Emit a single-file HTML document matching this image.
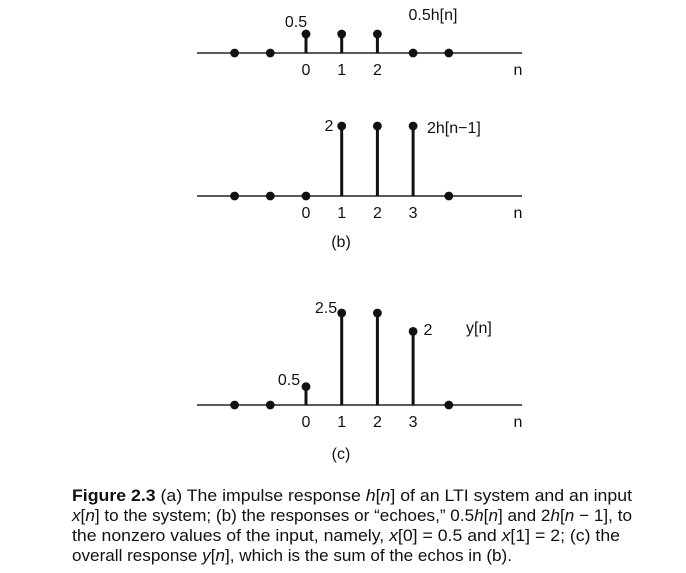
<!DOCTYPE html>
<html><head><meta charset="utf-8"><style>
html,body{margin:0;padding:0;background:#fff;width:686px;height:573px;overflow:hidden}
svg{display:block;font-family:"Liberation Sans",Arial,sans-serif}
</style></head><body>
<svg id="fig" width="686" height="573" viewBox="0 0 686 573">
<g id="panels"></g>
<g id="caption" font-size="17" fill="#111">
<text x="72" y="501" textLength="560" lengthAdjust="spacingAndGlyphs"><tspan font-weight="bold">Figure 2.3</tspan>    (a) The impulse response <tspan font-style="italic">h</tspan>[<tspan font-style="italic">n</tspan>] of an LTI system and an input</text>
<text x="72" y="521" textLength="560" lengthAdjust="spacingAndGlyphs"><tspan font-style="italic">x</tspan>[<tspan font-style="italic">n</tspan>] to the system; (b) the responses or “echoes,” 0.5<tspan font-style="italic">h</tspan>[<tspan font-style="italic">n</tspan>] and 2<tspan font-style="italic">h</tspan>[<tspan font-style="italic">n</tspan> − 1], to</text>
<text x="72" y="541" textLength="548" lengthAdjust="spacingAndGlyphs">the nonzero values of the input, namely, <tspan font-style="italic">x</tspan>[0]  =  0.5 and <tspan font-style="italic">x</tspan>[1]  =  2; (c) the</text>
<text x="72" y="561" textLength="440" lengthAdjust="spacingAndGlyphs">overall response <tspan font-style="italic">y</tspan>[<tspan font-style="italic">n</tspan>], which is the sum of the echos in (b).</text>
</g>
</svg>
<script>
// data
const nValues = [-2, -1, 0, 1, 2, 3, 4];
const seriesA = [0, 0, 0.5, 0.5, 0.5, 0, 0];
const seriesB = [0, 0, 0, 2, 2, 2, 0];
const seriesC = [0, 0, 0.5, 2.5, 2.5, 2, 0];
const tickLabelsA = ["0", "1", "2"];
const tickLabelsB = ["0", "1", "2", "3"];
const tickLabelsC = ["0", "1", "2", "3"];

const NS = "http://www.w3.org/2000/svg";
const root = document.getElementById("panels");
function xScale(n){ return 306 + n * 35.7; }
function mk(tag, attrs, parent){
  const e = document.createElementNS(NS, tag);
  for (const k in attrs) e.setAttribute(k, attrs[k]);
  parent.appendChild(e); return e;
}
function txt(s, x, y, parent, anchor){
  const t = mk("text", {x:x, y:y, "font-size":16, fill:"#111", "text-anchor":anchor||"middle"}, parent);
  t.textContent = s; return t;
}
function panel(name, axisY, unit, values, ticks, tickStart, extra){
  const g = mk("g", {}, root);
  
  
  const ax = mk("line", {x1:197, x2:522, y1:axisY, y2:axisY, stroke:"#222", "stroke-width":1.6}, g);
  
  
  values.forEach((v, i) => {
    const x = xScale(nValues[i]);
    const y = axisY - v * unit;
    if (v > 0) {
      const s = mk("line", {x1:x, x2:x, y1:axisY, y2:y, stroke:"#111", "stroke-width":3}, g);
      
      
    }
    const c = mk("circle", {cx:x, cy:y, r:4.4, fill:"#111"}, g);
    
    
  });
  ticks.forEach((t, i) => {
    const l = txt(t, xScale(tickStart + i), axisY + 22, g);
    
    
  });
  const nl = txt("n", 518, axisY + 22, g);
  
  
  extra(g);
}
panel("panel-a", 53, 38, seriesA, tickLabelsA, 0, g => {
  const a = txt("0.5", 296, 27, g);  
  const b = txt("0.5h[n]", 433, 20, g);  
});
panel("panel-b", 196, 35, seriesB, tickLabelsB, 0, g => {
  const a = txt("2", 329, 131, g);  
  const b = txt("2h[n−1]", 427, 133, g, "start");  
  const c = txt("(b)", 341, 247, g);  
});
panel("panel-c", 405, 36.8, seriesC, tickLabelsC, 0, g => {
  const a = txt("0.5", 289, 385, g);  
  const b = txt("2.5", 326, 313, g);  
  const c = txt("2", 428, 335, g);  
  const d = txt("y[n]", 466, 333, g, "start");  
  const e = txt("(c)", 341, 459, g);  
});
</script>
</body></html>
